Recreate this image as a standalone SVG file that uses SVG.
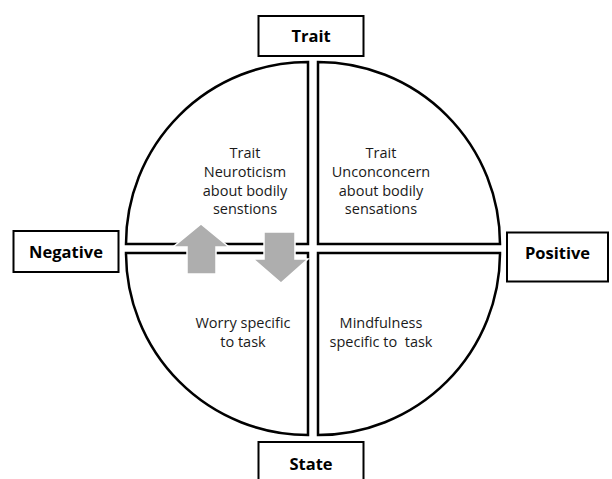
<svg xmlns="http://www.w3.org/2000/svg" width="612" height="479" viewBox="0 0 612 479">
<style>
.q{fill:#fff;stroke:#000;stroke-width:2.5}
.box{fill:#fff;stroke:#000;stroke-width:2}
.lbl{font-family:"Open Sans","Liberation Sans",sans-serif;font-weight:bold;font-size:16.5px;text-anchor:middle;fill:#000}
.t{font-family:"Open Sans","Liberation Sans",sans-serif;font-size:14.5px;text-anchor:middle;fill:#1a1a1a;white-space:pre}
.arr{fill:#aeaeae;stroke:#fff;stroke-width:1.5}
</style>
<rect width="612" height="479" fill="#fff"/>
<g id="q-trait-negative">
<path class="q" d="M308,244 V62 A182,182 0 0 0 126,244 Z"/>
<text class="t" x="245" y="158">Trait</text>
<text class="t" x="245" y="177">Neuroticism</text>
<text class="t" x="245" y="196">about bodily</text>
<text class="t" x="245" y="214">senstions</text>
</g>
<g id="q-trait-positive">
<path class="q" d="M318,244 V62 A182,182 0 0 1 500,244 Z"/>
<text class="t" x="381" y="158">Trait</text>
<text class="t" x="381" y="177">Unconconcern</text>
<text class="t" x="381" y="196">about bodily</text>
<text class="t" x="381" y="214">sensations</text>
</g>
<g id="q-state-negative">
<path class="q" d="M308,253 V435 A182,182 0 0 1 126,253 Z"/>
<text class="t" x="243" y="328">Worry specific</text>
<text class="t" x="243" y="347">to task</text>
</g>
<g id="q-state-positive">
<path class="q" d="M318,253 V435 A182,182 0 0 0 500,253 Z"/>
<text class="t" x="381" y="328">Mindfulness</text>
<text class="t" x="381" y="347" xml:space="preserve">specific to  task</text>
</g>
<g id="connectors">
<path class="arr" d="M201,224 L229,247 L216,247 L216,274 L187,274 L187,247 L173,247 Z"/>
<path class="arr" d="M264,232 L295,232 L295,259 L308,259 L281,283 L253,259 L264,259 Z"/>
</g>
<g id="trait">
<rect class="box" x="258.5" y="16" width="105" height="40"/>
<text class="lbl" x="311" y="42">Trait</text>
</g>
<g id="state">
<rect class="box" x="258.5" y="442" width="105" height="45"/>
<text class="lbl" x="311" y="470">State</text>
</g>
<g id="negative">
<rect class="box" x="13.5" y="231" width="105" height="41"/>
<text class="lbl" x="66" y="258">Negative</text>
</g>
<g id="positive">
<rect class="box" x="507" y="232.5" width="101" height="49"/>
<text class="lbl" x="557.5" y="259">Positive</text>
</g>
</svg>
